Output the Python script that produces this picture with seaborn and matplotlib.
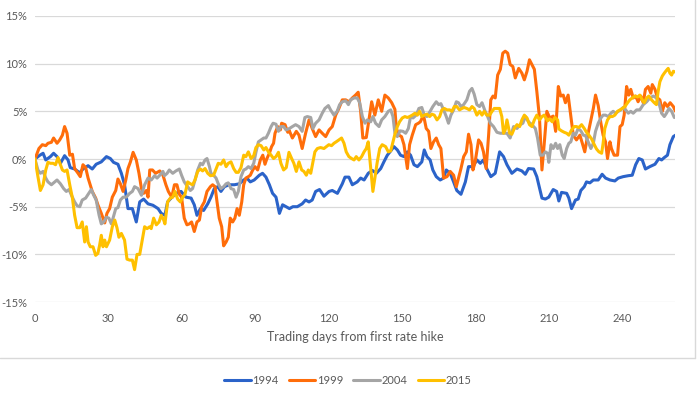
import matplotlib
matplotlib.use("Agg")
import matplotlib.pyplot as plt
from matplotlib.lines import Line2D
import seaborn as sns
import pandas as pd

# ---- data: (trading day, cumulative return %) ----
years = ["1994", "1999", "2004", "2015"]
colors = ["#2B63C9", "#FF6D0A", "#A5A5A5", "#FFC000"]

pts_1994 = [(0,0),(2,0.4),(3.3,0.6),(4.4,-0.1),(6.3,0.25),(7.6,0.6),(9,0.25),(10.4,-0.45),(12.1,0.35),(13.5,-0.1),
(14.4,-0.9),(16.2,-1.05),(18.3,-1.45),(19.6,-1.05),(21.7,-0.7),(23.4,-1.05),(25,-0.55),(27.1,-0.3),(29.2,0.25),(30.8,0.05),
(32.1,-0.35),(33.9,-0.55),(35.3,-1.5),(36.6,-2.7),(38,-5.2),(39.8,-5.2),(41.4,-6.6),(42.8,-4.5),(44.4,-4.2),(46.2,-4.7),
(48.2,-4.85),(50.3,-5.2),(51.6,-5.7),(53.1,-5.9),(54.2,-4.5),(55.6,-4.1),(57.6,-3.6),(59.7,-3.4),(61.7,-4.0),(63.8,-4.1),
(65.1,-4.8),(66.2,-5.9),(67.6,-5.2),(68.9,-5.4),(70.6,-4.7),(71.9,-4.0),(73.3,-3.1),(74.7,-2.9),(76,-3.4),(77.4,-2.9),
(79.4,-2.7),(81.5,-2.7),(83.5,-2.6),(85.3,-2.2),(86.6,-2.0),(88,-2.4),(89.6,-2.2),(91.7,-1.7),(93,-1.5),(94.4,-1.9),
(95.8,-2.7),(97.1,-3.6),(98.5,-4.0),(99.9,-5.7),(101.2,-4.8),(102.6,-5.0),(104,-5.2),(105.4,-5.0),(107.2,-5.0),(109.2,-4.7),
(110.6,-4.3),(112,-4.5),(113.3,-4.3),(114.7,-3.4),(116.3,-3.2),(118.1,-3.9),(120.2,-3.4),(121.5,-3.3),(123.6,-3.6),(125.6,-2.6),
(126.7,-1.9),(128.3,-1.9),(129.7,-2.7),(131.7,-2.4),(133.1,-2.0),(134.5,-2.2),(136.2,-1.5),(137.9,-1.2),(139.5,-1.5),(141.3,-1.0),
(142.6,-0.3),(144,0.4),(145.4,0.85),(146.7,1.3),(148.1,0.95),(149.4,0.4),(150.8,0.25),(152.2,0.75),(153.5,0.4),(154.9,-0.6),
(156.3,-0.8),(158.1,-0.3),(159.1,0.95),(160.2,0.25),(161.5,-0.1),(162.6,-1.15),(164,-1.85),(165.6,-2.2),(167,-2.0),(168.1,-1.15),
(169.7,-1.5),(171.1,-2.4),(172.4,-3.3),(174.1,-3.7),(175.9,-2.4),(177.2,-0.8),(179,-0.8),(180.6,-0.1),(182,-0.45),(183.3,-0.1),
(184.7,-1.05),(186.3,-1.85),(188.1,-1.5),(189.9,0.75),(191.5,0.25),(192.9,-0.6),(194.9,-1.5),(197,-1.05),(199,-1.25),(200.4,-1.6),
(201.7,-1.0),(203.8,-1.05),(205.1,-1.85),(207.2,-4.1),(208.6,-4.2),(210,-4.0),(211.8,-3.2),(213.2,-3.4),(214.1,-4.4),(215.2,-3.5),
(217.3,-3.6),(218.2,-4.1),(219.3,-5.2),(220.9,-4.3),(222,-4.2),(223.1,-3.3),(224.5,-2.9),(225.4,-2.4),(226.8,-2.5),(228.2,-2.2),
(230.2,-2.2),(231.8,-1.6),(233.2,-2.0),(235,-2.2),(237,-2.3),(238.4,-2.0),(240.4,-1.85),(242.5,-1.75),(244.1,-1.7),(245.5,-0.6),
(246.8,0.05),(248.2,-0.1),(249.5,-1.05),(251.3,-0.8),(253.4,-0.55),(255,0.05),(256.1,-0.1),(257.2,0.15),(258.5,0.4),(259.5,1.5),
(260.9,2.35),(261.8,2.5)]

pts_1999 = [(0,0),(1.6,1.1),(3,1.5),(4.4,1.4),(5.3,1.65),(6.7,1.75),(7.6,2.2),(9,1.65),(10.1,2.0),(11.2,2.5),(12.1,3.4),
(13.1,2.7),(14.2,0.4),(15.3,0.5),(16.2,-1.0),(17.6,-1.5),(18.5,-1.85),(19.6,-0.6),(20.7,-0.9),(21.7,-2.0),(23.4,-3.4),
(24.8,-4.1),(25.7,-4.8),(27.1,-5.7),(28.5,-6.7),(29.4,-5.7),(30.5,-5.2),(31.6,-4.0),(33,-3.3),(33.9,-2.1),(34.9,-2.6),
(36,-3.4),(37.1,-2.2),(38,-1.0),(39,-0.3),(40.1,0.7),(41.4,-0.1),(42.5,-1.5),(43.5,-3.1),(44.4,-3.6),(45.5,-3.3),(46.2,-4.0),
(46.9,-1.15),(48,-1.15),(49.3,-1.5),(51,-1.25),(52.3,-1.7),(53.5,-2.7),(54.5,-3.4),(55.9,-4.0),(57,-2.7),(58,-2.7),(59,-3.7),
(59.9,-4.0),(61,-6.2),(62.1,-6.9),(63.1,-6.8),(64,-6.6),(65.1,-7.6),(66.2,-6.6),(67.2,-6.4),(68.1,-5.0),(69.2,-4.5),(70.3,-3.4),
(71.7,-2.9),(72.6,-2.7),(73.6,-2.9),(74.4,-4.5),(75.3,-6.2),(76.3,-7.1),(77.1,-9.1),(78.1,-8.7),(79,-8.2),(79.8,-6.2),(80.8,-6.6),
(81.7,-6.2),(82.6,-5.2),(83.5,-5.9),(84.5,-4.5),(85.3,-2.7),(86.2,-2.0),(87.2,-1.85),(88,-1.7),(89,-1.15),(89.9,-0.8),(91,-1.15),
(92.1,-0.1),(93.1,0.4),(94,-0.55),(94.8,0.05),(95.8,0.6),(96.7,1.3),(97.5,1.65),(98.1,2.7),(99.2,3.4),(100.3,3.05),(100.8,3.75),
(102.2,3.6),(103.3,2.8),(103.8,3.05),(105.2,2.2),(106.8,2.9),(107.9,2.5),(109.2,1.1),(110.6,2.7),(112,4.1),(113.3,3.2),(114.7,2.35),
(116.1,3.05),(117.4,2.7),(118.8,2.35),(120.2,3.05),(121.5,3.4),(122.9,4.6),(124.2,5.3),(125.6,6.2),(127,6.2),(128.3,6.0),(129.7,6.4),
(131,6.7),(132.1,7.0),(133.1,5.0),(134,2.2),(135.4,2.25),(136.5,4.1),(137.6,6.0),(138.9,4.6),(140.3,6.2),(141.7,5.0),(143,6.7),
(144.4,6.4),(145.8,5.9),(147.1,5.2),(147.7,3.2),(148.8,2.5),(149.8,2.35),(150.8,1.5),(152.2,-1.0),(153.1,1.5),(154.2,2.5),(155.6,3.6),
(156.7,3.75),(157.5,3.9),(158.8,4.6),(159.9,3.2),(160.9,2.9),(161.8,1.1),(162.9,1.8),(164,2.2),(165,1.5),(165.9,1.1),(167,-2.0),
(168.4,-1.85),(169.7,-1.3),(171.1,-1.7),(172.2,-2.9),(173.1,-2.0),(174.1,-1.0),(175.2,0.25),(176.3,0.75),(177.2,2.6),(178.2,1.5),
(179,-1.15),(179.9,-0.3),(181.3,2.0),(182.3,1.65),(183.3,0.75),(184.4,-1.0),(185.4,2.5),(186.3,6.2),(187.2,6.6),(188.1,6.4),
(189.1,8.8),(190.2,9.4),(191.2,11.1),(192.2,11.3),(193.2,11.1),(194.2,9.9),(195.3,9.7),(196.3,8.5),(197.7,9.5),(199,9.0),(200,8.3),
(201.1,9.2),(202.1,10.4),(203.1,9.9),(204.1,9.4),(205.1,7.1),(206.2,4.3),(207.2,-1.15),(208.1,1.5),(209.2,5.0),(210.4,4.3),
(211.8,4.5),(212.8,2.9),(213.9,7.6),(214.9,6.6),(215.9,6.7),(216.8,5.9),(217.9,6.7),(219,4.5),(220,2.5),(221.3,2.0),(222.7,2.5),
(223.7,1.65),(224.7,0.75),(225.8,2.35),(226.8,3.6),(228.2,5.3),(229.1,6.7),(230.2,5.6),(231.3,3.75),(232.2,2.5),(233.2,1.8),
(234,0.05),(235,1.8),(235.6,1.1),(236.7,0.4),(238.1,0.4),(239.1,3.4),(240,3.6),(240.8,4.6),(241.8,7.6),(242.7,6.7),(243.5,7.3),
(244.5,6.4),(245.5,6.6),(246.5,6.0),(247.6,6.6),(248.6,5.9),(249.5,7.3),(250.6,7.6),(251.7,6.9),(252.3,7.8),(253.4,7.3),(254.4,6.4),
(255.4,6.2),(256.4,5.0),(257.4,5.9),(258.5,5.5),(259.6,5.9),(260.9,5.5),(261.8,5.0)]

pts_2004 = [(0,0),(1.2,-1.15),(2.2,-1.5),(3.3,-1.3),(4.4,-2.0),(5.3,-2.4),(6.7,-2.7),(7.6,-2.5),(9,-2.2),(10.4,-2.6),(11.7,-3.1),
(12.8,-3.4),(13.9,-3.2),(14.9,-3.8),(16.2,-4.5),(17.2,-4.9),(18.3,-5.0),(19.3,-4.3),(20.7,-4.1),(21.7,-3.7),(23,-3.2),(24,-3.8),
(25,-4.3),(26.2,-5.9),(27.1,-6.8),(28.1,-6.6),(29.2,-6.1),(30.2,-6.2),(31.2,-6.8),(31.9,-6.2),(33,-5.2),(33.9,-5.1),(34.9,-4.3),
(36,-4.0),(37.3,-4.0),(38.7,-3.6),(39.8,-3.4),(40.7,-2.9),(42.1,-3.1),(43.5,-3.8),(44.8,-2.7),(46.2,-2.0),(47.5,-2.2),(48.9,-1.75),
(49.9,-2.0),(51,-1.7),(52.3,-1.3),(52.9,-1.75),(54,-1.5),(54.9,-1.15),(56.3,-1.5),(57.6,-1.25),(59,-1.05),(59.9,-1.7),(61,-2.4),
(62.4,-2.9),(63.5,-3.3),(64.4,-3.1),(65.4,-2.2),(66.5,-1.15),(67.6,-0.45),(68.5,-0.6),(69.5,-0.1),(70.3,0.05),(71.3,-0.8),(71.9,-1.5),
(73,-1.7),(74,-2.0),(74.9,-2.6),(76,-3.1),(77.1,-2.9),(78.1,-2.6),(79,-2.5),(80.1,-3.1),(81.2,-3.2),(82.2,-4.0),(83.1,-3.4),
(84.2,-1.85),(85.3,-1.15),(86.2,-1.05),(87.2,-0.8),(88.3,-1.0),(89.4,-0.45),(90.3,0.7),(91.3,1.8),(92.4,2.0),(93.5,2.2),(94.4,2.2),
(95.4,2.7),(96.5,3.4),(97.3,3.75),(98.5,3.65),(99.5,2.9),(100.5,3.4),(101.6,3.4),(102.6,3.05),(104,3.2),(105.2,3.4),(106.5,3.6),
(107.9,3.4),(109.2,2.9),(110.3,4.35),(111.3,4.45),(112.7,4.35),(113.6,3.2),(114.7,3.75),(116.1,4.1),(117.4,4.8),(118.5,5.3),
(119.9,5.6),(120.8,5.15),(122.2,4.6),(123.5,5.0),(124.5,5.7),(125.6,6.0),(127,6.1),(128.1,5.7),(129,6.2),(130.4,6.4),(131.7,6.4),
(132.7,5.9),(133.8,4.45),(134.9,3.75),(135.8,4.1),(137.2,3.9),(138.1,4.45),(139.2,3.75),(140.6,3.4),(141.7,4.1),(143,4.45),
(144.4,5.0),(145.4,5.15),(146.3,4.45),(147.1,2.7),(148.1,2.35),(149.2,2.95),(150.4,2.9),(151.5,2.7),(152.6,3.2),(153.5,4.45),
(154.5,4.3),(155.8,4.6),(156.9,5.3),(158.1,5.4),(159.1,4.6),(160.2,4.45),(161.5,5.0),(162.6,5.5),(164,6.0),(165,5.7),(165.9,5.8),
(167,5.15),(168.1,4.45),(169,3.75),(170,4.6),(171.1,5.15),(172.2,6.0),(173.1,5.9),(174.1,5.5),(175.2,5.7),(176.5,6.2),(177.6,7.1),
(178.6,7.4),(179.5,6.8),(180.6,5.7),(181.7,5.5),(182.7,5.9),(184,5.0),(185,4.45),(186.1,3.75),(187.4,3.4),(188.8,2.8),(190.2,2.7),
(191.5,2.7),(192.9,2.7),(194.2,2.2),(195.6,3.4),(197,3.2),(198.3,3.6),(199.4,3.75),(200.4,4.45),(201.7,3.9),(203.1,3.6),(204.5,3.2),
(205.4,2.2),(206.5,0.4),(207.6,0.4),(208.6,0.75),(209.5,0.6),(210,-0.35),(210.9,1.5),(211.8,1.1),(212.8,1.65),(213.6,1.1),
(214.5,1.5),(215.5,0.4),(216.3,0.05),(217.3,1.1),(218.2,1.65),(219,1.8),(220,2.7),(220.9,2.5),(222,3.2),(223.1,2.95),(224.1,2.5),
(225,2.45),(226.1,1.8),(227.2,1.1),(228.2,1.65),(229.1,2.9),(230.2,3.75),(231.3,4.3),(232.2,4.6),(233.2,4.6),(234.3,4.45),
(235.4,4.8),(236.3,5.0),(237.3,4.8),(238.4,5.0),(239.5,5.15),(240.4,5.4),(241.4,5.15),(242.5,4.8),(243.5,5.0),(244.5,4.8),
(245.9,5.15),(247.2,5.15),(248.6,5.7),(250,6.0),(251.3,6.4),(252.7,6.6),(254,6.4),(255,5.9),(256.1,4.8),(257.2,4.45),(258.1,4.8),
(259.1,5.3),(260.2,5.0),(261.3,4.35)]

pts_2015 = [(0,0),(1.2,-1.85),(2.2,-3.3),(3.3,-2.7),(4.4,-1.15),(5.3,-0.35),(6.3,-0.45),(7.4,-0.45),(8.4,-0.6),(9.4,0.15),
(10.4,-0.6),(11.2,-1.15),(12.1,-1.3),(13.1,-1.15),(14.2,-2.7),(15.3,-4.1),(16.2,-5.9),(17.2,-7.2),(18.3,-7.2),(19.3,-6.6),
(20.3,-8.7),(21,-7.1),(21.7,-8.7),(22.6,-9.2),(23.7,-9.2),(24.8,-10.1),(25.7,-9.9),(26.4,-9.05),(27.1,-8.0),(27.8,-9.2),(28.5,-8.5),
(29.2,-9.2),(30.5,-8.5),(31.6,-7.1),(32.6,-6.4),(33.5,-7.2),(34.3,-8.2),(35.3,-7.8),(36.6,-8.5),(37.6,-10.5),(38.7,-10.6),
(39.8,-10.6),(40.7,-11.6),(41.7,-10.0),(42.8,-10.0),(43.9,-8.4),(44.8,-7.1),(45.8,-7.3),(46.9,-7.1),(47.5,-7.3),(48.5,-6.2),
(49.6,-6.9),(50.7,-6.6),(51.6,-5.9),(52.6,-6.4),(53.1,-6.8),(54.2,-4.5),(55.3,-4.1),(56.3,-4.0),(57.2,-3.4),(58.3,-4.2),(59.4,-4.5),
(60.4,-4.0),(61.3,-3.7),(62.4,-2.4),(63.5,-2.6),(64.4,-2.7),(65.4,-2.2),(66.5,-1.3),(67.6,-1.05),(68.5,-1.25),(69.5,-1.0),(70.6,-1.5),
(71.7,-1.75),(73,-1.7),(74,-1.05),(74.9,-0.45),(76,-0.55),(77.1,-0.1),(78.1,-0.8),(79,-0.45),(80.1,-0.3),(81.2,-1.0),(82.2,-1.4),
(83.1,-1.4),(84.2,-0.9),(85.3,0.4),(86.2,0.25),(87.2,0.75),(88.3,0.05),(89.4,0.35),(90.3,1.2),(91.3,1.5),(92.4,1.4),(93.5,0.95),
(94.4,1.2),(95.4,0.75),(96.5,0.4),(97.5,0.05),(98.5,0.25),(99.5,0.7),(100.5,-0.45),(101.6,-1.15),(102.7,-0.9),(103.8,0.7),
(104.9,0.05),(105.8,-0.45),(106.8,-1.3),(107.9,-0.3),(109,-1.15),(109.9,-1.3),(110.9,-1.7),(111.7,-1.15),(112.7,-1.5),(113.6,-0.3),
(114.4,0.75),(115.4,1.1),(116.7,1.2),(118.1,1.1),(119.1,1.3),(120.1,1.5),(121.2,1.4),(122.2,1.65),(123.1,1.8),(124.2,2.0),
(125.3,2.2),(126.3,1.65),(127.2,0.75),(128.3,0.25),(129.4,0.05),(130.4,-0.1),(131.3,0.25),(132.4,-0.1),(133.5,0.25),(134.5,0.75),
(135.4,1.1),(136.2,1.8),(137.2,-1.0),(138.1,-3.4),(138.9,-2.0),(139.9,-0.3),(140.9,1.1),(141.9,1.5),(143.3,1.3),(144.4,0.75),
(145.4,0.85),(146.3,1.8),(147.1,2.6),(148.1,3.4),(149,3.9),(150.1,4.3),(151.2,4.45),(152.2,4.35),(153.1,4.45),(154.2,4.6),
(155.3,4.8),(156.3,4.6),(157.2,5.0),(158.1,4.45),(159.1,4.6),(160.2,4.7),(161.3,4.45),(162.2,4.7),(163.2,4.6),(164.3,4.1),
(165.4,4.45),(166.3,5.15),(167.3,5.3),(168.4,5.15),(169.5,5.15),(170.4,5.0),(171.4,5.5),(172.4,5.5),(173.5,5.15),(174.5,5.3),
(175.4,5.4),(176.5,5.3),(177.6,5.15),(178.6,5.5),(179.5,5.3),(180.6,4.6),(181.7,5.0),(182.7,4.6),(183.6,5.0),(184.7,4.6),
(185.8,4.6),(186.8,5.0),(187.7,5.3),(188.8,5.3),(189.9,5.3),(190.8,4.45),(191.5,2.7),(192.2,3.05),(192.9,4.1),(194,2.7),(194.9,2.6),
(195.9,3.2),(197,3.6),(198.1,3.4),(199,4.1),(200,4.6),(201.1,4.3),(202.1,3.6),(203.1,3.4),(204.1,4.1),(205.1,4.6),(206.2,4.1),
(207.2,4.45),(208.1,4.6),(209.5,4.0),(210.4,4.2),(211.4,3.9),(212.5,4.35),(213.6,4.1),(214.1,3.15),(215.2,2.95),(216.3,2.8),
(217.3,2.7),(218.2,2.5),(219.3,3.05),(220.4,3.4),(221.3,3.4),(222.3,3.3),(223.4,3.6),(224.5,3.2),(225.4,2.8),(226.4,2.5),
(227.5,2.1),(228.6,1.5),(229.5,1.05),(230.5,0.75),(231.6,0.6),(232.2,1.65),(232.9,3.2),(234,4.1),(235,4.45),(236,4.45),(237,4.6),
(238.1,5.0),(239.1,5.15),(240,5.3),(241.1,5.5),(242.2,5.9),(243.1,6.2),(244.1,6.4),(245.2,6.6),(246.3,6.5),(247.2,6.7),(248.2,6.2),
(249,5.9),(250,6.4),(250.9,6.6),(252,6.2),(253.1,5.9),(254,5.7),(254.7,7.1),(255.4,8.1),(256.4,8.7),(257.2,9.0),(258.1,9.3),
(258.8,9.5),(259.5,9.0),(260.2,8.8),(260.9,9.2),(261.8,9.1)]

x_ticks = [0, 30, 60, 90, 120, 150, 180, 210, 240]
y_ticks = [-15, -10, -5, 0, 5, 10, 15]
x_label = "Trading days from first rate hike"

# ---- build long-form table ----
rows = []
for yr, pts in zip(years, [pts_1994, pts_1999, pts_2004, pts_2015]):
    for d, v in pts:
        rows.append({"day": d, "ret": v, "year": yr})
df = pd.DataFrame(rows)

sns.set_theme(style="white")
plt.rcParams["font.family"] = ["Lato", "DejaVu Sans"]

fig = plt.figure(figsize=(7.0, 3.98), dpi=100)
ax = fig.add_axes([0.05, 0.241, 0.914, 0.719])

sns.lineplot(data=df, x="day", y="ret", hue="year", hue_order=years,
             palette=dict(zip(years, colors)), estimator=None, sort=False,
             linewidth=2.2, ax=ax, legend=False)

ax.set_xlim(0, 261.5)
ax.set_ylim(-15, 15)
ax.set_xticks(x_ticks)
ax.set_yticks(y_ticks)
ax.set_yticklabels([f"{t}%" for t in y_ticks])
ax.yaxis.grid(True, color="#D9D9D9", linewidth=0.9)
ax.xaxis.grid(False)
ax.set_axisbelow(True)
for s in ax.spines.values():
    s.set_visible(False)
ax.tick_params(axis="both", length=0, labelsize=8, labelcolor="#595959")
ax.tick_params(axis="y", pad=5.5)
ax.tick_params(axis="x", pad=8)
ax.set_xlabel(x_label, fontsize=9, color="#595959", labelpad=5)
ax.set_ylabel("")

handles = [Line2D([0], [0], color=c, linewidth=2.2) for c in colors]
fig.legend(handles, years, loc="center", bbox_to_anchor=(0.497, 0.045), ncol=4,
           frameon=False, fontsize=8, handlelength=2.4, handletextpad=0.15,
           columnspacing=0.9, labelcolor="#595959")

# chart-area border (right and bottom edges visible in the reference)
fig.add_artist(Line2D([0, 0.993], [0.1005, 0.1005], transform=fig.transFigure,
                      color="#D9D9D9", linewidth=1.0))
fig.add_artist(Line2D([0.993, 0.993], [0.1005, 1.0], transform=fig.transFigure,
                      color="#D9D9D9", linewidth=1.0))

fig.savefig("out.png", dpi=100)
